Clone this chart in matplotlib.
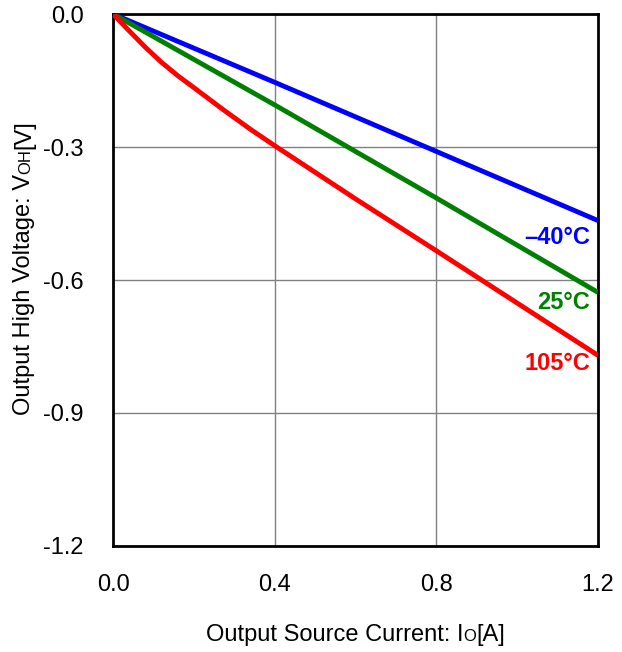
import numpy as np
import matplotlib.pyplot as plt

plt.rcParams['font.family'] = ['Liberation Sans', 'DejaVu Sans']
plt.rcParams['axes.unicode_minus'] = False

# Output source current [A] vs output high voltage [V]
x_blue = [0.0, 0.4, 0.8, 1.2]
y_blue = [0.0, -0.154, -0.310, -0.466]

x_green = [0.0, 0.1, 0.4, 0.8, 1.2]
y_green = [0.0, -0.051, -0.205, -0.415, -0.628]

x_red = [0.0, 0.04, 0.08, 0.12, 0.16, 0.2, 0.27, 0.34, 0.4, 0.6, 0.8, 1.0, 1.2]
y_red = [0.0, -0.038, -0.075, -0.109, -0.139, -0.166, -0.214, -0.260, -0.297,
         -0.417, -0.534, -0.652, -0.770]

labels = ['–40°C', '25°C', '105°C']
label_y = [-0.504, -0.650, -0.789]
colors = ['#0000ff', '#008000', '#ff0000']

xticks = [0.0, 0.4, 0.8, 1.2]
yticks = [0.0, -0.3, -0.6, -0.9, -1.2]

fig = plt.figure(figsize=(6.22, 6.52), dpi=100)
ax = fig.add_axes([0.1817, 0.1626, 0.7797, 0.8159])

ax.plot(x_blue, y_blue, color=colors[0], lw=3.5, zorder=3, solid_capstyle='butt')
ax.plot(x_green, y_green, color=colors[1], lw=3.5, zorder=3, solid_capstyle='butt')
ax.plot(x_red, y_red, color=colors[2], lw=3.5, zorder=3, solid_capstyle='butt',
        solid_joinstyle='round')

for t, yy, c in zip(labels, label_y, colors):
    ax.text(1.18, yy, t, color=c, fontsize=17, fontweight='bold',
            ha='right', va='center')

ax.set_xlim(0, 1.2)
ax.set_ylim(-1.2, 0)
ax.set_xticks(xticks)
ax.set_yticks(yticks)
ax.set_xticklabels(['%.1f' % v for v in xticks])
ax.set_yticklabels(['%.1f' % v for v in yticks])
ax.tick_params(length=0, labelsize=17)
ax.tick_params(axis='x', pad=20)
ax.tick_params(axis='y', pad=21)
ax.grid(color='#808080', lw=1)
for s in ax.spines.values():
    s.set_linewidth(2)

# x label: "Output Source Current: IO[A]" with small O
fig.canvas.draw()
t1 = fig.text(0.5, 1 - 641 / 652, 'Output Source Current: I', fontsize=17,
              ha='left', va='baseline')
t2 = ax.annotate('O', xy=(1, 0), xycoords=t1, fontsize=12,
                 ha='left', va='bottom', xytext=(0, 1.1), textcoords='offset points')
t3 = ax.annotate('[A]', xy=(1, 0), xycoords=t2, fontsize=17,
                 ha='left', va='bottom', xytext=(0, -1.1), textcoords='offset points')
fig.canvas.draw()
r = fig.canvas.get_renderer()
w = sum(a.get_window_extent(r).width for a in (t1, t2, t3))
cx = (ax.get_window_extent(r).x0 + ax.get_window_extent(r).x1) / 2
t1.set_x((cx - w / 2) / fig.bbox.width)

# y label: "Output High Voltage: VOH[V]" with small OH
u1 = fig.text(35 / 622, 0.5, 'Output High Voltage: V', fontsize=17,
              rotation=90, ha='right', va='bottom')
u2 = ax.annotate('OH', xy=(1, 1), xycoords=u1, fontsize=12, rotation=90,
                 ha='right', va='bottom', xytext=(-1.1, 0), textcoords='offset points')
u3 = ax.annotate('[V]', xy=(1, 1), xycoords=u2, fontsize=17, rotation=90,
                 ha='right', va='bottom', xytext=(1.1, 0), textcoords='offset points')
fig.canvas.draw()
h = sum(a.get_window_extent(r).height for a in (u1, u2, u3))
cy = 652 - 268
u1.set_y((cy - h / 2) / fig.bbox.height)

fig.savefig('out.png', dpi=100)
